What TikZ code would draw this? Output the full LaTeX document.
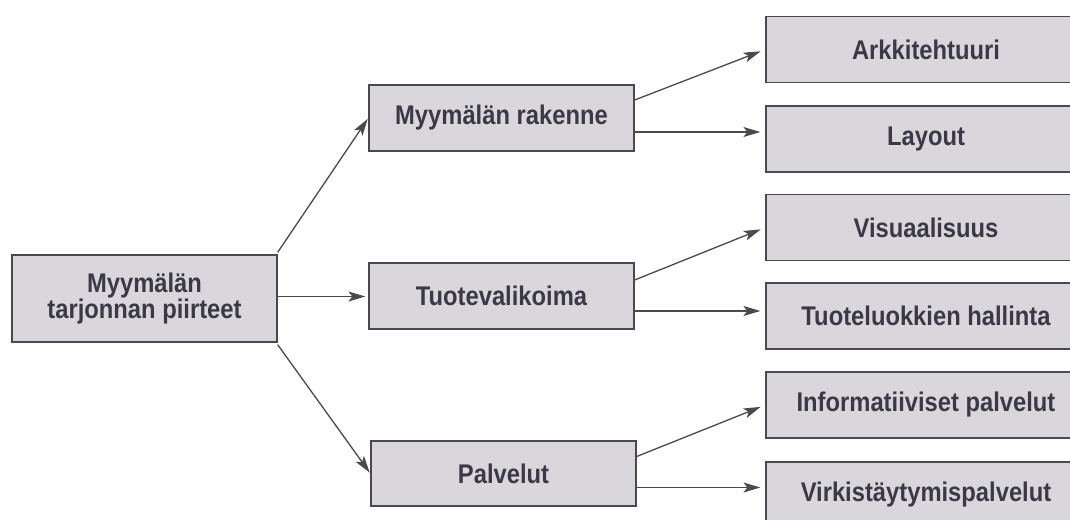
\documentclass[tikz,border=0pt]{standalone}
\usepackage{fontspec}
\newfontfamily\labfont{Liberation Sans}[FakeStretch=0.88]
\usetikzlibrary{arrows.meta}
\definecolor{boxfill}{HTML}{DAD7DC}
\definecolor{boxline}{HTML}{4A4A4E}
\definecolor{txt}{HTML}{3A3944}
\definecolor{arr}{HTML}{4A4A4E}
\tikzset{
  box/.style={draw=boxline, fill=boxfill, line width=1.3pt, inner sep=0pt, text=txt,
    font=\labfont\bfseries\fontsize{27}{26}\selectfont, align=center, minimum height=66pt},
  midbox/.style={box, minimum width=265pt},
  rbox/.style={box, minimum width=320pt},
  conn/.style={draw=arr, line width=1.3pt, -{Stealth[length=17pt,width=10pt,inset=4pt]}, shorten >=5pt}
}
\begin{document}
\begin{tikzpicture}[x=1pt,y=-1pt]
\fill[white] (0,0) rectangle (1070,519);
\clip (0,0) rectangle (1070,519);
\node[box, minimum width=265pt, minimum height=87pt] (L) at (144.5,298.5) {Myymälän\\tarjonnan piirteet};
\node[midbox] (A) at (501.5,118) {Myymälän rakenne};
\node[midbox] (B) at (501.5,296) {Tuotevalikoima};
\node[midbox, minimum height=65pt] (C) at (503.5,473.5) {Palvelut};
\node[rbox] (R1) at (926,49.5) {Arkkitehtuuri};
\node[rbox] (R2) at (926,139) {Layout};
\node[rbox] (R3) at (926,227.5) {Visuaalisuus};
\node[rbox] (R4) at (926,316) {Tuoteluokkien hallinta};
\node[rbox] (R5) at (926,405) {Informatiiviset palvelut};
\node[rbox] (R6) at (926,495) {Virkistäytymispalvelut};
\draw[conn, shorten >=1pt] ([yshift=2pt]L.north east) -- (A.west);
\draw[conn, shorten >=3pt] ([yshift=2pt]L.east) -- ([yshift=2pt]L.east -| B.west);
\draw[conn, shorten >=1pt] ([yshift=-2pt]L.south east) -- (C.west);
\draw[conn] ([yshift=18pt]A.east) -- (R1.west);
\draw[conn] ([yshift=-14pt]A.east) -- ([yshift=-14pt]A.east -| R2.west);
\draw[conn] ([yshift=16pt]B.east) -- (R3.west);
\draw[conn] ([yshift=-15pt]B.east) -- ([yshift=-15pt]B.east -| R4.west);
\draw[conn] ([yshift=17pt]C.east) -- (R5.west);
\draw[conn] ([yshift=-14pt]C.east) -- ([yshift=-14pt]C.east -| R6.west);
\end{tikzpicture}
\end{document}
